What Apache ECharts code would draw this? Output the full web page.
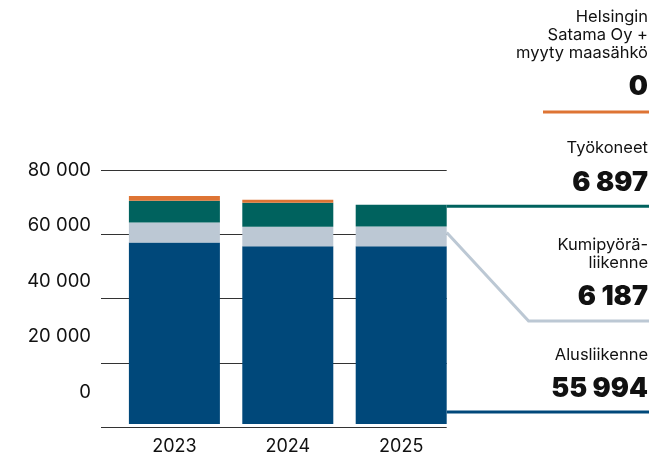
<!DOCTYPE html>
<html><head><meta charset="utf-8">
<script src="https://cdn.jsdelivr.net/npm/echarts@6/dist/echarts.min.js"></script>
<style>html,body{margin:0;padding:0;background:#fff}#c{width:664px;height:456px}</style>
</head><body><div id="c"></div>
<script>
// ---- data ----
const years = ['2023', '2024', '2025'];
const alusliikenne = [57200, 55950, 55994];
const kumipyora = [6250, 6200, 6187];
const tyokoneet = [6850, 7500, 6897];
const helsinginSatama = [1550, 950, 0];
const yMax = 80000;
const yStep = 20000;
const names = ['Alusliikenne', 'Kumipyörä-\nliikenne', 'Työkoneet', 'Helsingin\nSatama Oy +\nmyyty maasähkö'];

const colors = ['#00487A', '#BCC8D4', '#00625E', '#DE7434'];
const FONT = 'Inter, "Open Sans", sans-serif';
const fmt = v => String(v).replace(/\B(?=(\d{3})+(?!\d))/g, ' ');

const chart = echarts.init(document.getElementById('c'), null, {renderer: 'canvas'});
const plotTop = 170, plotH = 257;
const gridLineLeft = 101, gridLineW = 345.7;
const catW = 113.4;
const barW = 91;
const barGridLeft = gridLineLeft + gridLineW - 3 * catW + (catW - barW) / 2;

const seriesData = [alusliikenne, kumipyora, tyokoneet, helsinginSatama];
const option = {
  animation: false,
  backgroundColor: '#fff',
  grid: [
    {left: barGridLeft, top: plotTop, width: 3 * catW, height: plotH},
    {left: gridLineLeft, top: plotTop, width: gridLineW, height: plotH},
    {left: gridLineLeft, top: plotTop, width: 10, height: 222.5}
  ],
  xAxis: [
    {gridIndex: 0, type: 'category', data: years, axisLine: {show: false}, axisTick: {show: false},
     axisLabel: {color: '#111', fontFamily: FONT, fontSize: 18, margin: 14}},
    {gridIndex: 1, type: 'category', data: years, show: false},
    {gridIndex: 2, type: 'category', data: years, show: false}
  ],
  yAxis: [
    {gridIndex: 0, type: 'value', min: 0, max: yMax, show: false},
    {gridIndex: 1, type: 'value', min: 0, max: yMax, interval: yStep,
     axisLine: {show: false}, axisTick: {show: false}, axisLabel: {show: false},
     splitLine: {lineStyle: {color: '#333', width: 1}}},
    {gridIndex: 2, type: 'value', min: 0, max: yMax, interval: yStep,
     axisLine: {show: false}, axisTick: {show: false}, splitLine: {show: false},
     axisLabel: {color: '#111', fontFamily: FONT, fontSize: 18.5, margin: 10, formatter: v => fmt(v)}}
  ],
  series: seriesData.map((d, i) => ({
    type: 'bar', name: names[i], stack: 'total', xAxisIndex: 0, yAxisIndex: 0,
    data: d, barWidth: barW, itemStyle: {color: colors[i]}, z: 3
  }))
};
chart.setOption(option);

// ---- annotation on the right, tied to the 2025 bar ----
const last = years.length - 1;
const ctr = chart.convertToPixel({xAxisIndex: 0, yAxisIndex: 0}, [last, 0]);
const barRight = ctr[0] + barW / 2;
const yPix = v => chart.convertToPixel({xAxisIndex: 0, yAxisIndex: 0}, [last, v])[1];
const greyTop = yPix(alusliikenne[last] + kumipyora[last]);
const total = alusliikenne[last] + kumipyora[last] + tyokoneet[last] + helsinginSatama[last];
const totalY = yPix(total);
const textX = 648, lineEnd = 649;

const graphics = [];
function label(text, y, big) {
  graphics.push({
    type: 'text', z: 10,
    style: {
      text: text, x: textX, y: y, align: 'right', verticalAlign: 'middle',
      fill: '#111', fontFamily: FONT,
      fontSize: big ? 27 : 16.5, fontWeight: big ? 900 : 'normal',
      lineHeight: 18
    }
  });
}
function line(pts, color) {
  graphics.push({
    type: 'polyline', z: 10,
    shape: {points: pts},
    style: {stroke: color, lineWidth: 3, fill: null}
  });
}
label(names[3], 35, false);
label(fmt(helsinginSatama[last]), 87, true);
line([[543, 112], [lineEnd, 112]], colors[3]);

label(names[2], 148, false);
label(fmt(tyokoneet[last]), 183, true);
line([[barRight, totalY + 1.5], [lineEnd, totalY + 1.5]], colors[2]);

label(names[1], 254.5, false);
label(fmt(kumipyora[last]), 297, true);
const elbowY = 321;
line([[barRight, greyTop + 6], [barRight + (elbowY - greyTop - 6) / 1.08, elbowY], [lineEnd, elbowY]], colors[1]);

label(names[0], 355, false);
label(fmt(alusliikenne[last]), 389, true);
line([[barRight, 412], [lineEnd, 412]], colors[0]);

chart.setOption({graphic: graphics});
</script></body></html>
